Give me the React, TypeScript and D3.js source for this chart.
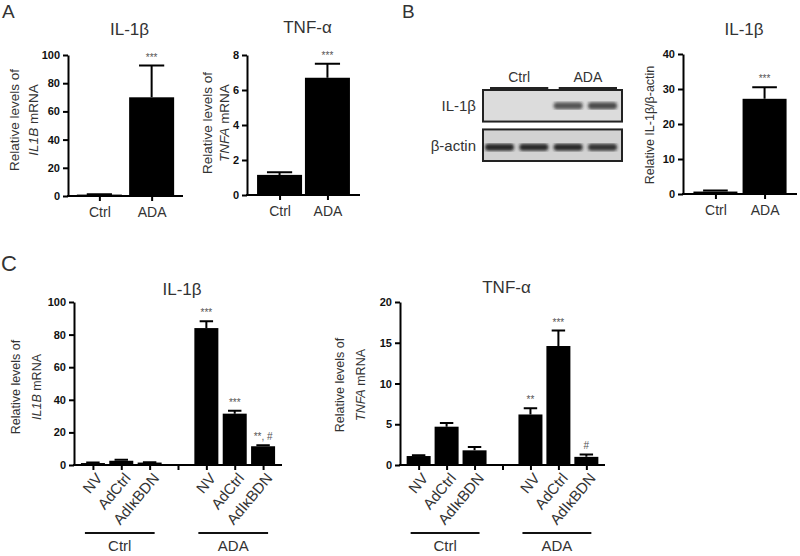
import { useEffect, useRef } from 'react';
import * as d3 from 'd3';

// ---- panel A : qPCR, Ctrl vs ADA
const groupsA = ['Ctrl', 'ADA'];
const il1bMeanA = [1.0, 70];
const il1bSemA = [0.2, 22.5];
const il1bSigA = ['', '***'];
const tnfaMeanA = [1.15, 6.7];
const tnfaSemA = [0.15, 0.8];
const tnfaSigA = ['', '***'];

// ---- panel B : western blot + densitometry
const blotGroups = ['Ctrl', 'ADA'];
const blotLanes = ['Ctrl-1', 'Ctrl-2', 'ADA-1', 'ADA-2'];
const blotRows = ['IL-1β', 'β-actin'];
const blotIl1b = [0.0, 0.0, 0.7, 0.75];
const blotActin = [0.95, 0.9, 0.9, 0.85];
const ratioMeanB = [0.7, 27.2];
const ratioSemB = [0.3, 3.3];
const ratioSigB = ['', '***'];

// ---- panel C : NV / AdCtrl / AdIκBDN in Ctrl and ADA
const groupsC = ['Ctrl', 'ADA'];
const treatments = ['NV', 'AdCtrl', 'AdIκBDN'];
const il1bMeanC = [1.2, 2.6, 1.5, 84, 31.5, 11.5];
const il1bSemC = [0.3, 0.6, 0.2, 4.2, 1.8, 0.6];
const il1bSigC = ['', '', '', '***', '***', '**, #'];
const tnfaMeanC = [1.1, 4.7, 1.8, 6.2, 14.6, 1.0];
const tnfaSemC = [0.1, 0.45, 0.4, 0.75, 1.9, 0.3];
const tnfaSigC = ['', '', '', '**', '***', '#'];

const ticks100 = [0, 20, 40, 60, 80, 100];
const ticks8 = [0, 2, 4, 6, 8];
const ticks40 = [0, 10, 20, 30, 40];
const ticks20 = [0, 5, 10, 15, 20];

const FONT = '"Liberation Sans", Arial, Helvetica, sans-serif';
const TXT = '#333';

type Part = { t: string; i?: boolean };

interface BarSpec {
  slots: string[];          // x positions (some may be gaps)
  values: (number | null)[];
  sems: (number | null)[];
  sig: string[];
  domain: [number, number];
  ticks: number[];
  left: number; right: number; top: number; bottom: number;
  pad: number; barW: number;
  showXLabels: boolean;
  title: string; titleY: number;
  ylab: Part[][]; ylabX: number[]; ylabY: number; ylabSize: number;
}

function drawBars(svg: d3.Selection<SVGSVGElement, unknown, null, undefined>, s: BarSpec) {
  const x = d3.scalePoint<string>().domain(s.slots).range([s.left, s.right]).padding(s.pad);
  const y = d3.scaleLinear().domain(s.domain).range([s.bottom, s.top]);
  const g = svg.append('g');

  const data = s.slots.map((k, i) => ({ k, v: s.values[i], e: s.sems[i], sig: s.sig[i] }))
    .filter(d => d.v !== null) as { k: string; v: number; e: number; sig: string }[];

  // bars
  g.selectAll('rect.bar').data(data).join('rect')
    .attr('x', d => (x(d.k) as number) - s.barW / 2)
    .attr('width', s.barW)
    .attr('y', d => y(d.v))
    .attr('height', d => s.bottom - y(d.v))
    .attr('fill', '#000');

  // error bars (upper only)
  const cap = s.barW * 0.28;
  g.selectAll('path.err').data(data).join('path')
    .attr('d', d => {
      const cx = x(d.k) as number;
      const yt = y(d.v + d.e);
      return `M${cx},${y(d.v)}V${yt}M${cx - cap},${yt}H${cx + cap}`;
    })
    .attr('stroke', '#000').attr('stroke-width', 2).attr('fill', 'none');

  // significance marks
  g.selectAll('text.sig').data(data.filter(d => d.sig)).join('text')
    .attr('x', d => x(d.k) as number)
    .attr('y', d => y(d.v + d.e) - 5)
    .attr('text-anchor', 'middle')
    .attr('font-family', FONT).attr('font-size', 10).attr('fill', '#555')
    .text(d => d.sig);

  // y axis
  const ya = g.append('g').attr('transform', `translate(${s.left},0)`)
    .call(d3.axisLeft(y).tickValues(s.ticks).tickSize(5).tickSizeOuter(0).tickPadding(3).tickFormat(d3.format('d')));
  ya.selectAll('path,line').attr('stroke', '#000').attr('stroke-width', 2);
  ya.selectAll('text').attr('font-family', FONT).attr('font-size', 11).attr('font-weight', 'bold').attr('fill', '#111');

  // x axis
  const xa = g.append('g').attr('transform', `translate(0,${s.bottom})`)
    .call(d3.axisBottom(x).tickSize(5).tickSizeOuter(0).tickPadding(6));
  xa.select('path').attr('stroke-width', 2).attr('d', `M${s.left - 1},0H${s.right}`);
  xa.selectAll('line').attr('stroke', '#000').attr('stroke-width', 2);
  xa.selectAll('text').attr('font-family', FONT).attr('font-size', 14).attr('fill', TXT)
    .style('display', s.showXLabels ? null : 'none');

  // title
  g.append('text').attr('x', (s.left + s.right) / 2 + 4).attr('y', s.titleY)
    .attr('text-anchor', 'middle').attr('font-family', FONT).attr('font-size', 17).attr('fill', TXT)
    .text(s.title);

  // y labels (rotated, possibly partly italic)
  s.ylab.forEach((line, li) => {
    const t = g.append('text')
      .attr('transform', `translate(${s.ylabX[li]},${s.ylabY}) rotate(-90)`)
      .attr('text-anchor', 'middle').attr('dominant-baseline', 'central')
      .attr('font-family', FONT).attr('font-size', s.ylabSize).attr('fill', TXT);
    line.forEach(p => t.append('tspan').attr('font-style', p.i ? 'italic' : 'normal').text(p.t));
  });

  return x;
}

const App = () => {
  const ref = useRef<SVGSVGElement | null>(null);

  useEffect(() => {
    const svg = d3.select(ref.current as SVGSVGElement);
    svg.selectAll('*').remove();

    const letter = (t: string, lx: number, ly: number, size: number) =>
      svg.append('text').attr('x', lx).attr('y', ly).attr('font-family', FONT)
        .attr('font-size', size).attr('fill', TXT).text(t);
    letter('A', 2, 18, 19);
    letter('B', 402, 18, 19);
    letter('C', 1, 271, 22);

    // ---- A1
    drawBars(svg, {
      slots: groupsA, values: il1bMeanA, sems: il1bSemA, sig: il1bSigA,
      domain: [0, 100], ticks: ticks100,
      left: 68, right: 183, top: 55, bottom: 196, pad: 0.6, barW: 45, showXLabels: true,
      title: 'IL-1β', titleY: 35,
      ylab: [[{ t: 'Relative levels of' }], [{ t: 'IL1B', i: true }, { t: ' mRNA' }]],
      ylabX: [14, 33], ylabY: 120, ylabSize: 13.5,
    });
    // ---- A2
    drawBars(svg, {
      slots: groupsA, values: tnfaMeanA, sems: tnfaSemA, sig: tnfaSigA,
      domain: [0, 8], ticks: ticks8,
      left: 247, right: 360, top: 55, bottom: 195, pad: 0.68, barW: 45, showXLabels: true,
      title: 'TNF-α', titleY: 33,
      ylab: [[{ t: 'Relative levels of' }], [{ t: 'TNFA', i: true }, { t: ' mRNA' }]],
      ylabX: [207, 224], ylabY: 123, ylabSize: 13.5,
    });
    // ---- B chart
    drawBars(svg, {
      slots: blotGroups, values: ratioMeanB, sems: ratioSemB, sig: ratioSigB,
      domain: [0, 40], ticks: ticks40,
      left: 683, right: 797, top: 54, bottom: 194, pad: 0.66, barW: 44, showXLabels: true,
      title: 'IL-1β', titleY: 35,
      ylab: [[{ t: 'Relative IL-1β/β-actin' }]],
      ylabX: [650], ylabY: 125, ylabSize: 12.5,
    });

    // ---- B blot
    const lanes = d3.scaleBand<string>().domain(blotLanes).range([484, 618]).paddingInner(0.1);
    const rows = d3.scaleBand<string>().domain(blotRows).range([90, 161]).paddingInner(0.2);
    const defs = svg.append('defs');
    defs.append('filter').attr('id', 'blur').append('feGaussianBlur').attr('stdDeviation', 1.6);
    const boxL = 483, boxR = 622;
    const rowFill = ['#dcdcdc', '#d2d2d2'];
    blotRows.forEach((r, ri) => {
      svg.append('rect').attr('x', boxL).attr('y', rows(r) as number)
        .attr('width', boxR - boxL).attr('height', rows.bandwidth())
        .attr('fill', rowFill[ri]).attr('stroke', '#222').attr('stroke-width', 2);
      const vals = ri === 0 ? blotIl1b : blotActin;
      const cy = (rows(r) as number) + rows.bandwidth() / 2 + (ri === 0 ? 0 : 2);
      svg.append('g').attr('filter', 'url(#blur)').selectAll('rect').data(blotLanes).join('rect')
        .attr('x', l => (lanes(l) as number) + 1)
        .attr('width', lanes.bandwidth() - 2)
        .attr('y', cy - 3.5).attr('height', 7).attr('rx', 3)
        .attr('fill', '#1a1a1a')
        .attr('opacity', (_, i) => vals[i]);
      svg.append('text').attr('x', 476).attr('y', cy - (ri === 0 ? 0 : 2))
        .attr('text-anchor', 'end').attr('dominant-baseline', 'central')
        .attr('font-family', FONT).attr('font-size', 15).attr('fill', TXT).text(r);
    });
    blotGroups.forEach(gname => {
      const ls = blotLanes.filter(l => l.startsWith(gname));
      const x0 = (lanes(ls[0]) as number) + 6;
      const x1 = (lanes(ls[ls.length - 1]) as number) + lanes.bandwidth() - 1;
      svg.append('line').attr('x1', x0).attr('x2', x1).attr('y1', 88).attr('y2', 88)
        .attr('stroke', '#222').attr('stroke-width', 2);
      svg.append('text').attr('x', (x0 + x1) / 2).attr('y', 82).attr('text-anchor', 'middle')
        .attr('font-family', FONT).attr('font-size', 14).attr('fill', TXT).text(gname);
    });

    // ---- C slots
    const slotsC = [
      ...treatments.map(t => `${groupsC[0]}|${t}`),
      'gap',
      ...treatments.map(t => `${groupsC[1]}|${t}`),
    ];
    const withGap = (a: (number | string)[]) => [...a.slice(0, 3), null, ...a.slice(3)];

    const cPanels = [
      { vals: il1bMeanC, sems: il1bSemC, sig: il1bSigC, domain: [0, 100] as [number, number], ticks: ticks100,
        left: 74, right: 282, title: 'IL-1β', titleY: 295, gene: 'IL1B', ylabX: [16, 37], ylabY: 387 },
      { vals: tnfaMeanC, sems: tnfaSemC, sig: tnfaSigC, domain: [0, 20] as [number, number], ticks: ticks20,
        left: 400, right: 605, title: 'TNF-α', titleY: 293, gene: 'TNFA', ylabX: [340, 361], ylabY: 385 },
    ];
    cPanels.forEach(p => {
      const x = drawBars(svg, {
        slots: slotsC,
        values: withGap(p.vals) as (number | null)[],
        sems: withGap(p.sems) as (number | null)[],
        sig: withGap(p.sig).map(v => (v ?? '') as string),
        domain: p.domain, ticks: p.ticks,
        left: p.left, right: p.right, top: 302, bottom: 465, pad: 0.667, barW: 24, showXLabels: false,
        title: p.title, titleY: p.titleY,
        ylab: [[{ t: 'Relative levels of' }], [{ t: p.gene, i: true }, { t: ' mRNA' }]],
        ylabX: p.ylabX, ylabY: p.ylabY, ylabSize: 12.5,
      });
      const lab = svg.append('g');
      slotsC.filter(k => k !== 'gap').forEach(k => {
        lab.append('text')
          .attr('transform', `translate(${(x(k) as number) + 6},${475}) rotate(-50)`)
          .attr('text-anchor', 'end').attr('dominant-baseline', 'central')
          .attr('font-family', FONT).attr('font-size', 15).attr('fill', TXT)
          .text(k.split('|')[1]);
      });
      groupsC.forEach(gname => {
        const ks = slotsC.filter(k => k.startsWith(gname + '|'));
        const x0 = (x(ks[0]) as number) - 8;
        const x1 = (x(ks[ks.length - 1]) as number) + 5;
        lab.append('line').attr('x1', x0).attr('x2', x1).attr('y1', 533).attr('y2', 533)
          .attr('stroke', '#111').attr('stroke-width', 2);
        lab.append('text').attr('x', (x0 + x1) / 2).attr('y', 551).attr('text-anchor', 'middle')
          .attr('font-family', FONT).attr('font-size', 15).attr('fill', TXT).text(gname);
      });
    });
  }, []);

  return (
    <svg ref={ref} width={800} height={556}
      style={{ position: 'absolute', left: 0, top: 0, background: '#fff' }} />
  );
};

export default App;
